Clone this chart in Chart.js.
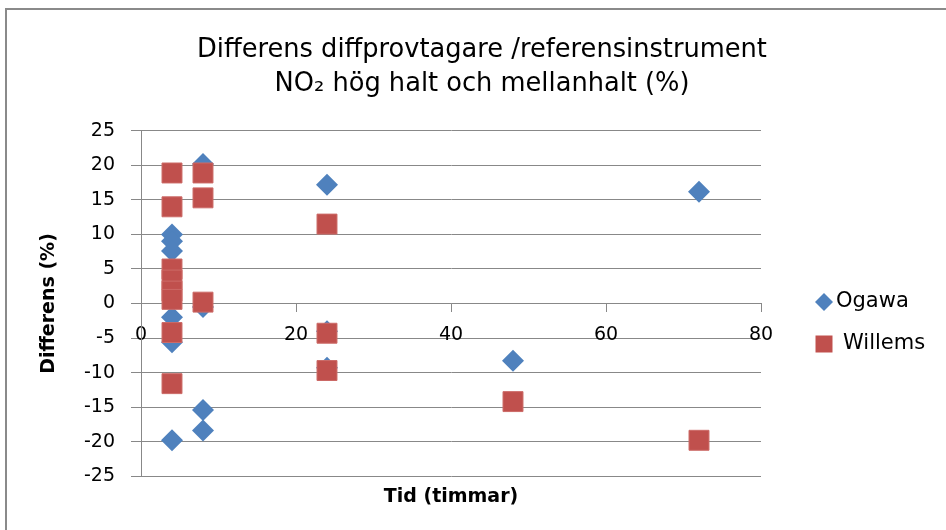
<!DOCTYPE html>
<html>
<head>
<meta charset="utf-8">
<script src="https://cdn.jsdelivr.net/npm/chart.js@4/dist/chart.umd.min.js"></script>
<style>
  body { margin: 0; background: #fff; }
  #wrap { position: relative; width: 946px; height: 530px; overflow: hidden; }
  #frame { position: absolute; left: 5px; top: 8px; width: 1000px; height: 600px; border: 2px solid #8a8a8a; }
  #chart { position: absolute; left: 0; top: 0; }
</style>
</head>
<body>
<div id="wrap">
  <div id="frame"></div>
  <canvas id="chart" width="946" height="530"></canvas>
</div>
<script>
// data
const titleLines = ['Differens diffprovtagare /referensinstrument', 'NO\u2082 hög halt och mellanhalt (%)'];
const seriesNames = ['Ogawa', 'Willems'];
const ogawaX = [4, 4, 4, 4, 4, 4, 8, 8, 8, 8, 24, 24, 24, 48, 72];
const ogawaY = [10.0, 9.0, 7.6, -2.0, -5.6, -19.8, 20.2, -0.5, -15.4, -18.4, 17.2, -4.0, -9.3, -8.3, 16.2];
const willemsX = [4, 4, 4, 4, 4, 4, 4, 4, 8, 8, 8, 24, 24, 24, 48, 72];
const willemsY = [18.9, 14.0, 5.0, 3.4, 1.8, 0.6, -4.2, -11.6, 18.9, 15.3, 0.2, 11.5, -4.3, -9.7, -14.2, -19.8];

const FONT = '"DejaVu Sans", sans-serif';
Chart.defaults.font.family = FONT;
Chart.defaults.color = '#000';

function toPoints(xs, ys) {
    return xs.map((x, i) => ({ x: x, y: ys[i] }));
}

// legend drawn at the right like the excel one
const sideLegend = {
    id: 'sideLegend',
    afterDraw(chart) {
        const ctx = chart.ctx;
        const rows = [302, 344];
        const textX = [836, 843];
        ctx.save();
        chart.data.datasets.forEach((ds, i) => {
            const cx = 824, cy = rows[i];
            ctx.fillStyle = ds.backgroundColor;
            ctx.beginPath();
            if (ds.pointStyle === 'rectRot') {
                ctx.moveTo(cx - 9, cy);
                ctx.lineTo(cx, cy - 9);
                ctx.lineTo(cx + 9, cy);
                ctx.lineTo(cx, cy + 9);
                ctx.closePath();
            } else {
                ctx.rect(cx - 8.5, cy - 8.5, 17, 17);
            }
            ctx.fill();
            ctx.fillStyle = '#000';
            ctx.font = '21px ' + FONT;
            ctx.textBaseline = 'middle';
            ctx.textAlign = 'left';
            ctx.fillText(ds.label, textX[i], cy);
        });
        ctx.restore();
    }
};

new Chart(document.getElementById('chart').getContext('2d'), {
    type: 'scatter',
    data: {
        datasets: [{
            label: seriesNames[0],
            data: toPoints(ogawaX, ogawaY),
            pointStyle: 'rectRot',
            pointRadius: 11,
            backgroundColor: '#4F81BD',
            borderColor: '#4F81BD',
            borderWidth: 0,
            order: 1
        },
        {
            label: seriesNames[1],
            data: toPoints(willemsX, willemsY),
            pointStyle: 'rect',
            pointRadius: 14.1,
            backgroundColor: '#C0504D',
            borderColor: '#CC6A67',
            borderWidth: 1,
            order: 0
        }]
    },
    options: {
        responsive: false,
        animation: false,
        events: [],
        layout: {
            padding: { left: 18, right: 0, top: 0, bottom: 22 }
        },
        plugins: {
            legend: { display: false },
            tooltip: { enabled: false },
            title: {
                display: true,
                text: titleLines,
                font: { size: 25.7, weight: 'normal', lineHeight: 1.32 },
                color: '#000',
                padding: { top: 33, bottom: 30 }
            }
        },
        scales: {
            x: {
                type: 'linear',
                position: { y: 0 },
                min: 0,
                max: 80,
                ticks: { stepSize: 20, font: { size: 19 }, padding: 12, color: '#000' },
                grid: { drawOnChartArea: false, tickLength: 8, color: '#888' },
                border: { color: '#888' }
            },
            x2: {
                type: 'linear',
                position: 'bottom',
                ticks: { display: false },
                grid: { display: false, drawTicks: false },
                border: { display: false },
                title: {
                    display: true,
                    text: 'Tid (timmar)',
                    font: { size: 19, weight: 'bold' },
                    color: '#000',
                    padding: { top: 9, bottom: 0 }
                }
            },
            y: {
                min: -25,
                max: 25,
                ticks: { stepSize: 5, font: { size: 19 }, padding: 16, color: '#000' },
                grid: { color: '#888', tickLength: 10 },
                border: { color: '#888' },
                title: {
                    display: true,
                    text: 'Differens (%)',
                    font: { size: 19, weight: 'bold' },
                    color: '#000',
                    padding: { top: 20, bottom: 0 }
                },
                afterFit(scale) {
                    scale.width = 123;
                }
            },
            // empty box on the right, leaves room for the legend
            yR: {
                type: 'linear',
                position: 'right',
                ticks: { display: false },
                grid: { display: false, drawTicks: false },
                border: { display: false },
                afterFit(scale) {
                    scale.width = 185;
                }
            }
        }
    },
    plugins: [sideLegend]
});
</script>
</body>
</html>
